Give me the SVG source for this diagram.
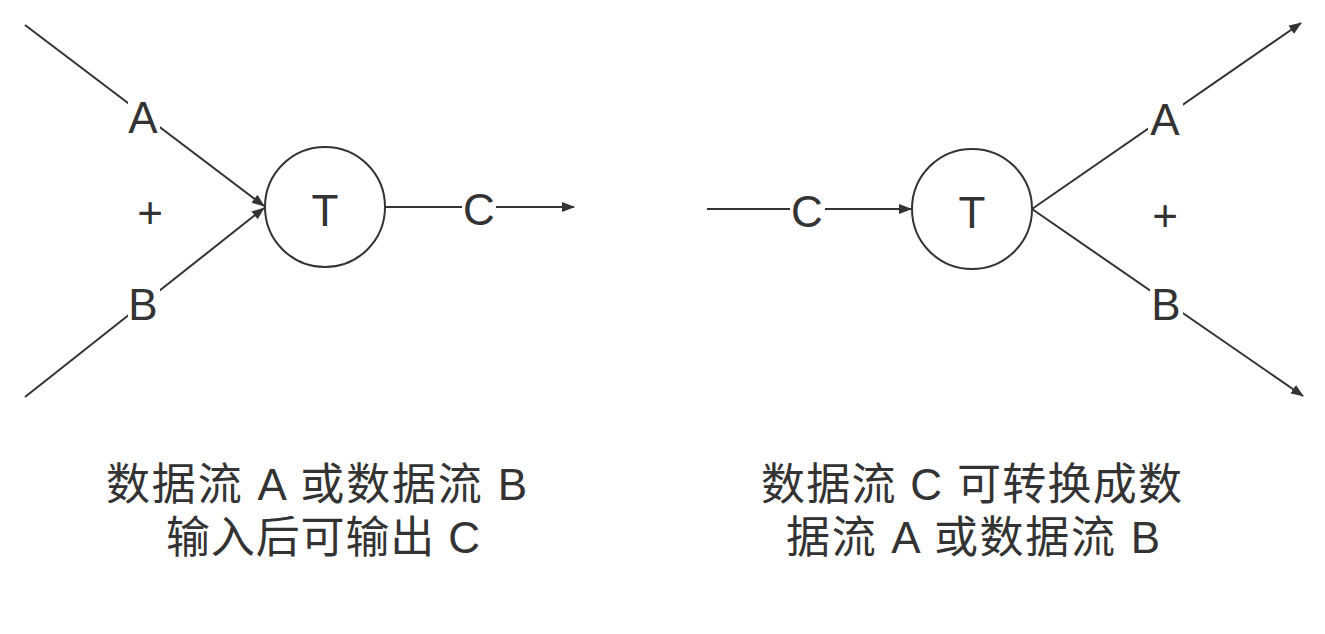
<svg xmlns="http://www.w3.org/2000/svg" width="1325" height="634" viewBox="0 0 1325 634">
  <style>
    .edge { stroke: #333; stroke-width: 2; fill: none; }
    .node { stroke: #333; stroke-width: 2; fill: #fff; }
    .lbl { font-family: "Liberation Sans", Arial, sans-serif; font-size: 44px; fill: #333; text-anchor: middle; }
    .bg { fill: #fff; }
    .cap { font-family: "Liberation Sans", "Noto Sans CJK SC", sans-serif; font-size: 44px; fill: #333; }
  </style>
  <defs>
    <marker id="arr" markerWidth="14" markerHeight="12" refX="12" refY="5" orient="auto" markerUnits="userSpaceOnUse">
      <path d="M0,0 L13,5 L0,10 z" fill="#333"/>
    </marker>
  </defs>
  <rect width="1325" height="634" fill="#fff"/>

  <g id="connectors">
    <!-- left diagram -->
    <path class="edge" d="M25,25 L264,206" marker-end="url(#arr)"/>
    <path class="edge" d="M25,397 L264,208" marker-end="url(#arr)"/>
    <path class="edge" d="M385,207 L574,207" marker-end="url(#arr)"/>
    <!-- right diagram -->
    <path class="edge" d="M707,209 L911,209" marker-end="url(#arr)"/>
    <path class="edge" d="M1032,209 L1301,23" marker-end="url(#arr)"/>
    <path class="edge" d="M1032,209 L1303,396" marker-end="url(#arr)"/>

    <!-- connector labels -->
    <g id="label-left-A">
      <rect class="bg" x="128" y="98" width="32" height="40"/>
      <text class="lbl" x="143" y="133">A</text>
    </g>
    <g id="label-left-B">
      <rect class="bg" x="128" y="286" width="32" height="40"/>
      <text class="lbl" x="143" y="320">B</text>
    </g>
    <g id="label-left-C">
      <rect class="bg" x="462" y="188" width="34" height="40"/>
      <text class="lbl" x="479" y="225">C</text>
    </g>
    <g id="label-right-C">
      <rect class="bg" x="790" y="190" width="35" height="40"/>
      <text class="lbl" x="807" y="227">C</text>
    </g>
    <g id="label-right-A">
      <rect class="bg" x="1148" y="100" width="35" height="40"/>
      <text class="lbl" x="1165" y="135">A</text>
    </g>
    <g id="label-right-B">
      <rect class="bg" x="1150" y="284" width="33" height="40"/>
      <text class="lbl" x="1166" y="320">B</text>
    </g>
    <text class="lbl" x="150" y="228">+</text>
    <text class="lbl" x="1165" y="231">+</text>
  </g>

  <g id="node-T-left">
    <ellipse class="node" cx="325" cy="207" rx="60" ry="60"/>
    <text class="lbl" x="325" y="226">T</text>
  </g>
  <g id="node-T-right">
    <ellipse class="node" cx="972" cy="209" rx="60" ry="60"/>
    <text class="lbl" x="972" y="228">T</text>
  </g>

  <g id="caption-left">
    <text class="cap" x="106" y="500" textLength="421" lengthAdjust="spacing">数据流 A 或数据流 B</text>
    <text class="cap" x="166" y="553" textLength="314" lengthAdjust="spacing">输入后可输出 C</text>
  </g>
  <g id="caption-right">
    <text class="cap" x="761" y="500" textLength="421" lengthAdjust="spacing">数据流 C 可转换成数</text>
    <text class="cap" x="786" y="553" textLength="374" lengthAdjust="spacing">据流 A 或数据流 B</text>
  </g>
</svg>
